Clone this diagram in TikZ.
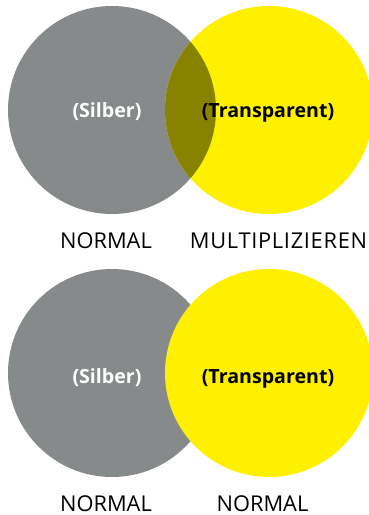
\documentclass[tikz,border=0pt]{standalone}
\usepackage{fontspec}
\setmainfont{Open Sans}
\definecolor{silber}{HTML}{878A8A}
\definecolor{gelb}{HTML}{FFF000}
\definecolor{oliv}{HTML}{878200}
\begin{document}
\begin{tikzpicture}[x=1pt,y=-1pt,
  lbl/.style={font=\fontsize{21.8}{24}\selectfont, text=black, inner sep=0pt, anchor=base},
  inner/.style={font=\bfseries\fontsize{19.6}{22}\selectfont, inner sep=0pt}]
\useasboundingbox (0,0) rectangle (369,515);
% top pair
\fill[silber] (112,110) circle (104);
\fill[gelb] (269,110) circle (104);
\begin{scope}
  \clip (112,110) circle (104);
  \fill[oliv] (269,110) circle (104);
\end{scope}
\node[inner, text=white] (s1) at (107,112) {(Silber)};
\node[inner, text=black] (t1) at (268,112.5) {(Transparent)};
\node[lbl] (n1) at (106,248) {NORMAL};
\node[lbl] (m1) at (278.5,248) {\addfontfeature{LetterSpace=3.3}MULTIPLIZIEREN};
% bottom pair
\fill[silber] (112,373) circle (104);
\fill[gelb] (269,373) circle (104);
\node[inner, text=white] (s2) at (107,378) {(Silber)};
\node[inner, text=black] (t2) at (268,379) {(Transparent)};
\node[lbl] (n2) at (106,511) {NORMAL};
\node[lbl] (n3) at (262.5,511) {NORMAL};
\end{tikzpicture}
\end{document}
